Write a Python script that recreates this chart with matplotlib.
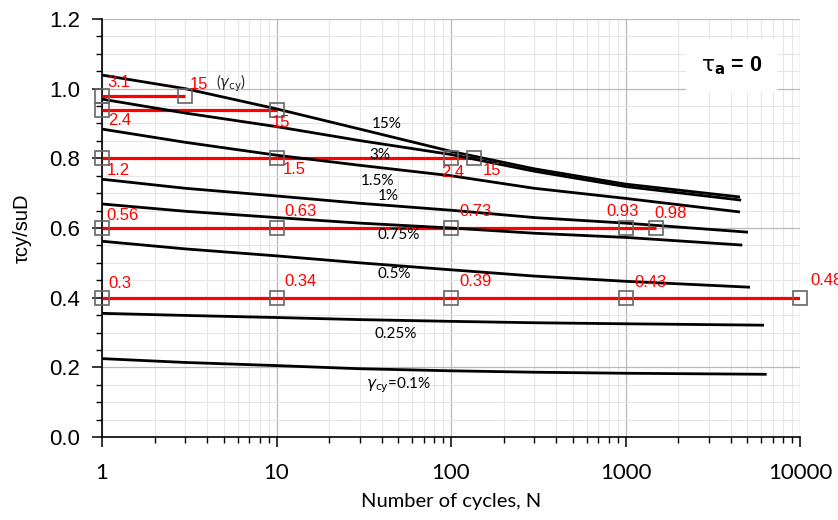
import matplotlib
matplotlib.use("Agg")
import matplotlib.pyplot as plt
from matplotlib.ticker import MultipleLocator, LogLocator, FixedLocator, FuncFormatter, NullFormatter

plt.rcParams['font.family'] = ['Liberation Sans', 'DejaVu Sans']

# Strain contours: number of cycles N and normalised cyclic stress tau_cy/s_uD
contour_labels = ["15%", "3%", "1.5%", "1%", "0.75%", "0.5%", "0.25%", r"$\gamma_{\rm cy}$=0.1%"]
contour_N = [
    [1, 3, 10, 30, 100, 300, 1000, 4530],
    [1, 3, 10, 30, 100, 300, 1000, 4600],
    [1, 3, 10, 30, 100, 300, 1000, 4530],
    [1, 3, 10, 30, 100, 300, 1000, 5040],
    [1, 3, 10, 30, 100, 300, 1000, 4670],
    [1, 3, 10, 30, 100, 300, 1000, 5170],
    [1, 3, 10, 30, 100, 300, 1000, 6220],
    [1, 3, 10, 30, 100, 300, 1000, 6440],
]
contour_tau = [
    [1.039, 1.000, 0.942, 0.884, 0.820, 0.770, 0.726, 0.689],
    [0.970, 0.930, 0.891, 0.851, 0.811, 0.763, 0.719, 0.680],
    [0.884, 0.846, 0.809, 0.780, 0.750, 0.714, 0.685, 0.646],
    [0.740, 0.714, 0.692, 0.671, 0.651, 0.630, 0.614, 0.588],
    [0.669, 0.648, 0.630, 0.614, 0.600, 0.585, 0.573, 0.551],
    [0.562, 0.540, 0.520, 0.500, 0.480, 0.462, 0.447, 0.430],
    [0.355, 0.349, 0.343, 0.337, 0.332, 0.328, 0.325, 0.321],
    [0.225, 0.214, 0.205, 0.196, 0.190, 0.186, 0.183, 0.180],
]
# label anchor (N, tau) for each contour
contour_label_N = [43, 39, 38, 43.5, 50, 47, 48, 50]
contour_label_tau = [0.899, 0.810, 0.735, 0.692, 0.580, 0.468, 0.296, 0.149]

# Test series: constant stress level, cycles tested, and strain ratio labels
test_levels = [0.98, 0.94, 0.80, 0.60, 0.40]
test_N = [
    [1, 3],
    [1, 10],
    [1, 10, 100, 135],
    [1, 10, 100, 1000, 1500],
    [1, 10, 100, 1000, 10000],
]
test_labels = [
    ["3.1", "15"],
    ["2.4", "15"],
    ["1.2", "1.5", "2.4", "15"],
    ["0.56", "0.63", "0.73", "0.93", "0.98"],
    ["0.3", "0.34", "0.39", "0.43", "0.48"],
]
# label offsets in pixels (left edge, vertical centre) relative to each square
label_offsets = [
    [(5, 13), (4, 11)],
    [(6, -11), (-5, -13)],
    [(5, -12), (6, -11), (-10, -14), (9, -12)],
    [(4, 12), (8, 16), (8, 16), (-19, 17), (-2, 14)],
    [(6, 14), (8, 16), (8, 16), (9, 15), (10, 17)],
]

x_ticks = [1, 10, 100, 1000, 10000]

fig = plt.figure(figsize=(8.38, 5.2), dpi=100)
ax = fig.add_axes([102 / 838, 83 / 520, 698 / 838, 418 / 520])

ax.set_xscale('log')
ax.set_xlim(1, 10000)
ax.set_ylim(0, 1.2)

# grid
ax.set_axisbelow(True)
ax.grid(which='major', color='#b9b9b9', lw=0.9)
ax.grid(which='minor', color='#e6e6e6', lw=0.8)

# horizontal test lines
for lvl, ns in zip(test_levels, test_N):
    ax.plot([ns[0], ns[-1]], [lvl, lvl], color='#ff0000', lw=2.3, solid_capstyle='butt', zorder=3)

# strain contours
for ns, ts in zip(contour_N, contour_tau):
    ax.plot(ns, ts, color='black', lw=2.0, zorder=4, solid_capstyle='butt')

# squares
for lvl, ns in zip(test_levels, test_N):
    ax.plot(ns, [lvl] * len(ns), linestyle='none', marker='s', ms=9.5, mfc='none',
            mec='#666666', mew=1.2, zorder=5, clip_on=False)

# red labels
for lvl, ns, labs, offs in zip(test_levels, test_N, test_labels, label_offsets):
    for n, lab, (dx, dy) in zip(ns, labs, offs):
        ax.annotate(lab, xy=(n, lvl), xytext=(dx, dy), textcoords='offset pixels',
                    ha='left', va='center', color='#ff0000', fontsize=12,
                    annotation_clip=False, zorder=6)

# "(gamma_cy)" note beside the first top label
ax.annotate(r'($\gamma_{\rm cy}$)', xy=(test_N[0][1], test_levels[0]), xytext=(31, 12),
            textcoords='offset pixels', ha='left', va='center', color='#222222',
            fontsize=10.5, family=['Lato', 'DejaVu Sans'], zorder=6)

# contour labels
for lab, n, t in zip(contour_labels, contour_label_N, contour_label_tau):
    ax.text(n, t, lab, ha='center', va='center', fontsize=11,
            family=['Lato', 'DejaVu Sans'], color='black', zorder=6)

# stress ratio box
ax.text(0.902, 0.888, r'$\mathrm{\tau}_{\bf a}$ = 0', transform=ax.transAxes, ha='center', va='center',
        fontsize=15.5, fontweight='bold', zorder=7,
        bbox=dict(boxstyle='square,pad=0.7', fc='white', ec='none'))

# axes styling
for side in ('top', 'right'):
    ax.spines[side].set_visible(False)
for side in ('left', 'bottom'):
    ax.spines[side].set_color('black')
    ax.spines[side].set_linewidth(1.2)

ax.yaxis.set_major_locator(MultipleLocator(0.2))
ax.yaxis.set_minor_locator(MultipleLocator(0.05))
ax.yaxis.set_major_formatter(FuncFormatter(lambda v, p: f"{v:.1f}"))
ax.xaxis.set_major_locator(FixedLocator(x_ticks))
ax.xaxis.set_minor_locator(LogLocator(base=10, subs=range(2, 10)))
ax.xaxis.set_major_formatter(FuncFormatter(lambda v, p: f"{int(round(v))}"))
ax.xaxis.set_minor_formatter(NullFormatter())

ax.tick_params(axis='both', which='major', direction='out', length=7, width=1.1, color='black')
ax.tick_params(axis='both', which='minor', direction='out', length=4.5, width=1.0, color='black')
ax.tick_params(axis='y', which='major', labelsize=16, pad=9)
ax.tick_params(axis='x', which='major', pad=12)
for lbl in ax.get_xticklabels():
    lbl.set_family(['Lato', 'DejaVu Sans'])
    lbl.set_fontsize(16)

ax.set_xlabel('Number of cycles, N', fontsize=14.5, family=['Lato', 'DejaVu Sans'], labelpad=7)
ax.set_ylabel('τcy/suD', fontsize=14.5, labelpad=12)

fig.savefig('out.png', dpi=100)
